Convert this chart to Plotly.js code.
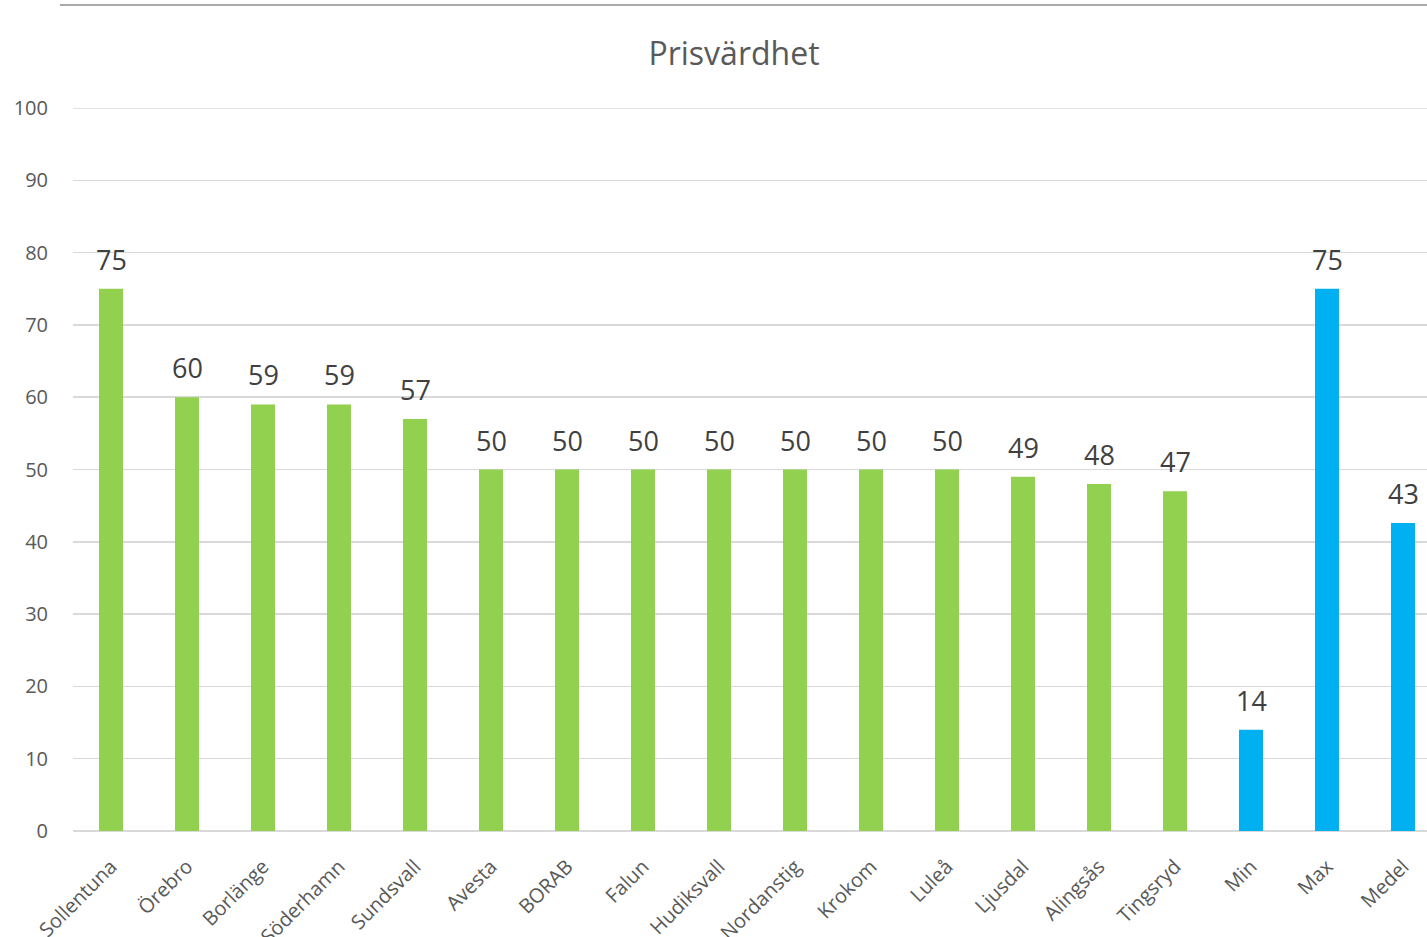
<!DOCTYPE html>
<html>
<head>
<meta charset="utf-8">
<script src="https://cdn.plot.ly/plotly-3.0.1.min.js"></script>
<style>
html,body{margin:0;padding:0;overflow:hidden;background:#fff;width:1427px;height:937px;}
#chart{width:1460px;height:937px;}
</style>
</head>
<body>
<div id="chart"></div>
<script>
const categories = ["Sollentuna","Örebro","Borlänge","Söderhamn","Sundsvall","Avesta","BORAB","Falun","Hudiksvall","Nordanstig","Krokom","Luleå","Ljusdal","Alingsås","Tingsryd","Min","Max","Medel"];
const values = [75,60,59,59,57,50,50,50,50,50,50,50,49,48,47,14,75,42.6];
const summaryLabels = ["Min","Max","Medel"];
const green = "#92d050";
const blue = "#00b0f0";
const colors = categories.map(c => summaryLabels.includes(c) ? blue : green);

const font = "'Open Sans', 'Noto Sans', sans-serif";
const plotLeft = 73, plotRight = 1441, plotTop = 108, plotBottom = 831;
const W = 1460, H = 937;

const trace = {
  type: "bar",
  x: categories,
  y: values,
  marker: {color: colors},
  hoverinfo: "x+y"
};

const labels = categories.map((c, i) => ({
  x: c, y: values[i], xref: "x", yref: "y",
  text: Math.round(values[i]).toString(),
  showarrow: false, yanchor: "bottom", yshift: 9,
  font: {family: font, size: 27, color: "#404040"}
}));

const layout = {
  width: W, height: H,
  margin: {l: plotLeft, r: W - plotRight, t: plotTop, b: H - plotBottom, pad: 0},
  paper_bgcolor: "#fff", plot_bgcolor: "#fff",
  bargap: 0.684,
  showlegend: false,
  title: {text: "Prisvärdhet", font: {family: font, size: 32, color: "#595959"}, x: 734/W, xanchor: "center", y: 1 - 54/H, yanchor: "middle"},
  xaxis: {
    type: "category",
    tickangle: -45,
    tickfont: {family: font, size: 20, color: "#595959"},
    showgrid: false, showline: false, zeroline: false,
    ticks: "outside", ticklen: 15, tickcolor: "rgba(0,0,0,0)",
    automargin: false
  },
  yaxis: {
    range: [0, 100],
    dtick: 10,
    tick0: 0,
    gridcolor: "#d9d9d9", gridwidth: 1.5,
    zeroline: true, zerolinecolor: "#d9d9d9", zerolinewidth: 1.5,
    showline: false,
    ticks: "outside", ticklen: 20, tickcolor: "rgba(0,0,0,0)",
    tickfont: {family: font, size: 20, color: "#595959"},
    automargin: false
  },
  annotations: labels,
  shapes: [{
    type: "line", xref: "paper", yref: "paper",
    x0: (60 - plotLeft) / (plotRight - plotLeft), x1: 1.05,
    y0: (plotBottom - 5) / (plotBottom - plotTop), y1: (plotBottom - 5) / (plotBottom - plotTop),
    line: {color: "#8c8c8c", width: 1.5}
  }, {
    type: "line", xref: "paper", yref: "y",
    x0: 0, x1: 1, y0: 100, y1: 100,
    line: {color: "#d9d9d9", width: 1.5},
    layer: "below"
  }]
};

Plotly.newPlot("chart", [trace], layout, {displayModeBar: false, staticPlot: true});
</script>
</body>
</html>
